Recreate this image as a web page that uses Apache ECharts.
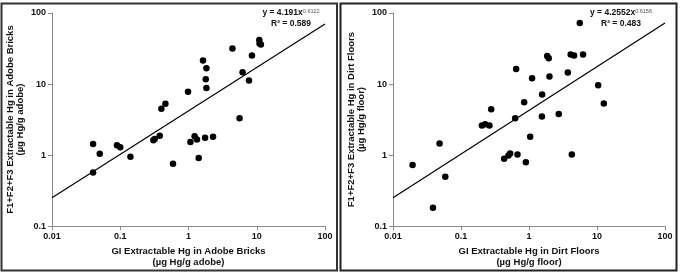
<!DOCTYPE html>
<html><head><meta charset="utf-8">
<script src="https://cdn.jsdelivr.net/npm/echarts@6/dist/echarts.min.js"></script>
<style>html,body{margin:0;padding:0;background:#fff}#c{width:682px;height:273px}</style>
</head><body><div id="c"></div>
<script>
// Left panel: Adobe bricks [GI extractable, F1+F2+F3 extractable] (µg Hg/g)
const adobeX = [0.040,0.040,0.050,0.0895,0.100,0.141,0.306,0.320,0.379,0.400,0.459,0.593,0.984,1.067,1.23,1.33,1.41,1.63,1.75,1.83,1.79,1.83,2.29,4.4,5.6,6.2,7.7,8.5,10.9,11.0,11.5];
const adobeY = [1.43,0.57,1.04,1.38,1.29,0.95,1.62,1.68,1.87,4.5,5.27,0.757,7.8,1.53,1.84,1.65,0.91,21.5,1.76,16.7,11.7,8.8,1.81,31.6,3.3,14.7,11.2,25.3,41.6,37.1,36.0];
// Right panel: Dirt floors
const floorX = [0.0194,0.0387,0.0484,0.0587,0.203,0.227,0.262,0.278,0.431,0.499,0.528,0.677,0.899,1.04,4.26,0.626,0.647,0.849,1.11,1.55,1.56,1.85,1.95,2.0,2.74,3.72,4.1,4.6,5.58,6.24,10.4,12.6];
const floorY = [0.727,0.181,1.45,0.494,2.61,2.72,2.61,4.4,0.889,0.987,1.05,1.02,0.79,1.81,1.02,3.3,16.3,5.55,12.1,3.5,7.1,24.9,23.0,12.8,3.78,14.5,26.1,25.3,72.6,26.1,9.6,5.3];
// Trendline endpoints
const trendAdobe = [[0.01,0.25],[100,70.2]];
const trendFloor = [[0.01,0.25],[100,72.4]];
// Tick labels
const xTicks = ['0.01','0.1','1','10','100'];
const yTicks = ['0.1','1','10','100'];
// Texts
const eqAdobe = {a:'y = 4.191x', p:'0.6122', r:'R² = 0.589'};
const eqFloor = {a:'y = 4.2552x', p:'0.6156', r:'R² = 0.483'};
const xNames = ['GI Extractable Hg in Adobe Bricks\n(µg Hg/g adobe)','GI Extractable Hg in Dirt Floors\n(µg Hg/g floor)'];
const yNames = ['F1+F2+F3 Extractable Hg in Adobe Bricks\n(µg Hg/g adobe)','F1+F2+F3 Extractable Hg in Dirt Floors\n(µg Hg/g floor)'];

const FONT = '"Liberation Sans", Arial, sans-serif';
const axisColor = '#8a8a8a';
function fmt(v){ return String(Number(v.toPrecision(3))); }
function xAxis(i){
  return {gridIndex:i,type:'log',logBase:10,min:0.01,max:100,
    name:xNames[i],nameLocation:'middle',nameGap:15,
    nameTextStyle:{fontFamily:FONT,fontWeight:'bold',fontSize:9.5,color:'#111',lineHeight:11,verticalAlign:'top'},
    axisLine:{lineStyle:{color:axisColor,width:1}},
    axisTick:{show:true,length:4,lineStyle:{color:axisColor}},
    minorTick:{show:false},splitLine:{show:false},
    axisLabel:{fontFamily:FONT,fontWeight:'bold',fontSize:9,color:'#111',margin:6,formatter:v=>fmt(v)}};
}
function yAxis(i){
  return {gridIndex:i,type:'log',logBase:10,min:0.1,max:100,
    name:yNames[i],nameLocation:'middle',nameGap:27,nameRotate:90,
    nameTextStyle:{fontFamily:FONT,fontWeight:'bold',fontSize:9.5,color:'#111',lineHeight:10},
    axisLine:{show:true,lineStyle:{color:axisColor,width:1}},
    axisTick:{show:true,length:4,lineStyle:{color:axisColor}},
    minorTick:{show:false},splitLine:{show:false},
    axisLabel:{fontFamily:FONT,fontWeight:'bold',fontSize:9,color:'#111',margin:6,formatter:v=>fmt(v)}};
}
function pts(xs,ys){ return xs.map((x,k)=>[x,ys[k]]); }
function eqText(e,cx){
  return {type:'text',x:cx,y:8,style:{
    text:'{a|'+e.a+'}{p|'+e.p+'}\n{r|'+e.r+'}',
    rich:{a:{fontFamily:FONT,fontWeight:'bold',fontSize:8.5,fill:'#111',lineHeight:10},
          p:{fontFamily:FONT,fontSize:5.5,fill:'#555',verticalAlign:'top',lineHeight:10,padding:[0,0,4,0]},
          r:{fontFamily:FONT,fontWeight:'bold',fontSize:8.5,fill:'#111',lineHeight:11}},
    align:'center',verticalAlign:'top'}};
}
const chart = echarts.init(document.getElementById('c'),null,{renderer:'canvas'});
chart.setOption({
  animation:false,
  grid:[{left:52,top:13,width:273,height:216},{left:393,top:13,width:272,height:216}],
  xAxis:[xAxis(0),xAxis(1)],
  yAxis:[yAxis(0),yAxis(1)],
  series:[
    {type:'scatter',xAxisIndex:0,yAxisIndex:0,data:pts(adobeX,adobeY),symbolSize:6.5,itemStyle:{color:'#000',opacity:1}},
    {type:'line',xAxisIndex:0,yAxisIndex:0,data:trendAdobe,showSymbol:false,lineStyle:{color:'#000',width:1.2}},
    {type:'scatter',xAxisIndex:1,yAxisIndex:1,data:pts(floorX,floorY),symbolSize:6.5,itemStyle:{color:'#000',opacity:1}},
    {type:'line',xAxisIndex:1,yAxisIndex:1,data:trendFloor,showSymbol:false,lineStyle:{color:'#000',width:1.2}}
  ],
  graphic:[
    {type:'rect',shape:{x:1.5,y:3.5,width:335.5,height:267},style:{fill:'none',stroke:'#333',lineWidth:2}},
    {type:'rect',shape:{x:340.5,y:3.5,width:336,height:267},style:{fill:'none',stroke:'#222',lineWidth:2}},
    eqText(eqAdobe,291),
    eqText(eqFloor,621)
  ]
});
</script></body></html>
